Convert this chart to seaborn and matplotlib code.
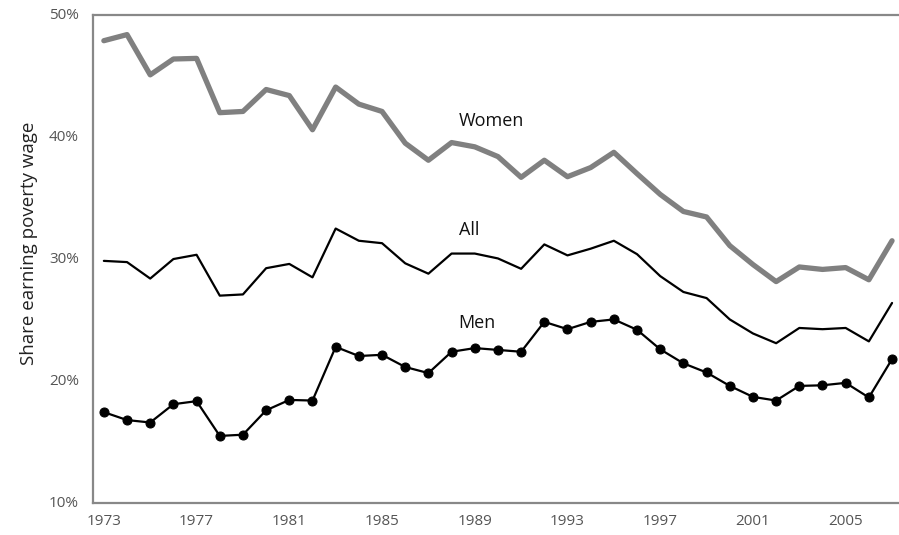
import numpy as np
import pandas as pd
import matplotlib
matplotlib.use("Agg")
import matplotlib.pyplot as plt
import seaborn as sns

# Données (part en %)
annees = list(range(1973, 2008))
femmes = [47.9, 48.4, 45.1, 46.4, 46.45, 42.0, 42.1, 43.9, 43.4, 40.6,
          44.1, 42.7, 42.1, 39.5, 38.1, 39.55, 39.2, 38.4, 36.7, 38.1,
          36.75, 37.5, 38.75, 37.0, 35.3, 33.9, 33.45, 31.1, 29.55, 28.15,
          29.35, 29.15, 29.3, 28.3, 31.5]
tous = [29.85, 29.75, 28.4, 30.0, 30.35, 27.0, 27.1, 29.25, 29.6, 28.5,
        32.5, 31.5, 31.3, 29.65, 28.8, 30.45, 30.45, 30.05, 29.2, 31.2,
        30.3, 30.85, 31.5, 30.4, 28.6, 27.3, 26.8, 25.05, 23.9, 23.1,
        24.35, 24.25, 24.35, 23.25, 26.4]
hommes = [17.45, 16.8, 16.6, 18.1, 18.35, 15.5, 15.6, 17.6, 18.45, 18.4,
          22.8, 22.05, 22.15, 21.15, 20.65, 22.4, 22.7, 22.55, 22.4, 24.85,
          24.25, 24.85, 25.05, 24.2, 22.6, 21.45, 20.7, 19.6, 18.7, 18.4,
          19.6, 19.65, 19.85, 18.65, 21.8]

etiquettes = ["Women", "All", "Men"]
etiquettes_y = [41.3, 32.4, 24.75]
etiquette_x = 1988.3

ticks_x = [1973, 1977, 1981, 1985, 1989, 1993, 1997, 2001, 2005]
ticks_y = [10, 20, 30, 40, 50]

df = pd.DataFrame({"Année": annees, "Women": femmes, "All": tous, "Men": hommes})

sns.set_style("white")
plt.rcParams['font.family'] = ['Open Sans', 'DejaVu Sans']

fig = plt.figure(figsize=(8.99, 5.35), dpi=100)
ax = fig.add_axes([0.1034, 0.0598, 0.8966, 0.912])

sns.lineplot(data=df, x="Année", y="Women", ax=ax, color="#808080", linewidth=3.8)
sns.lineplot(data=df, x="Année", y="All", ax=ax, color="black", linewidth=1.6)
sns.lineplot(data=df, x="Année", y="Men", ax=ax, color="black", linewidth=1.6,
             marker="o", markersize=6.5, markeredgecolor="black")

for texte, y in zip(etiquettes, etiquettes_y):
    ax.text(etiquette_x, y, texte, fontsize=13, color="#111111", va="center", ha="left")

ax.set_xlim(1972.53, 2007.3)
ax.set_ylim(10, 50)
ax.set_xticks(ticks_x)
ax.set_yticks(ticks_y)
ax.set_yticklabels([f"{v}%" for v in ticks_y])
ax.tick_params(axis="both", length=0, labelsize=11, labelcolor="#555555")
ax.tick_params(axis="x", pad=8)
ax.tick_params(axis="y", pad=10)
for label in ax.get_yticklabels():
    label.set_verticalalignment("center")

ax.set_xlabel("")
ax.set_ylabel("Share earning poverty wage", fontsize=13.5, color="#222222")
ax.yaxis.set_label_coords(-0.068, 0.533)

for cote in ["left", "top", "bottom"]:
    ax.spines[cote].set_color("#888888")
    ax.spines[cote].set_linewidth(1.6)
ax.spines["right"].set_visible(False)

fig.savefig("out.png", dpi=100)
